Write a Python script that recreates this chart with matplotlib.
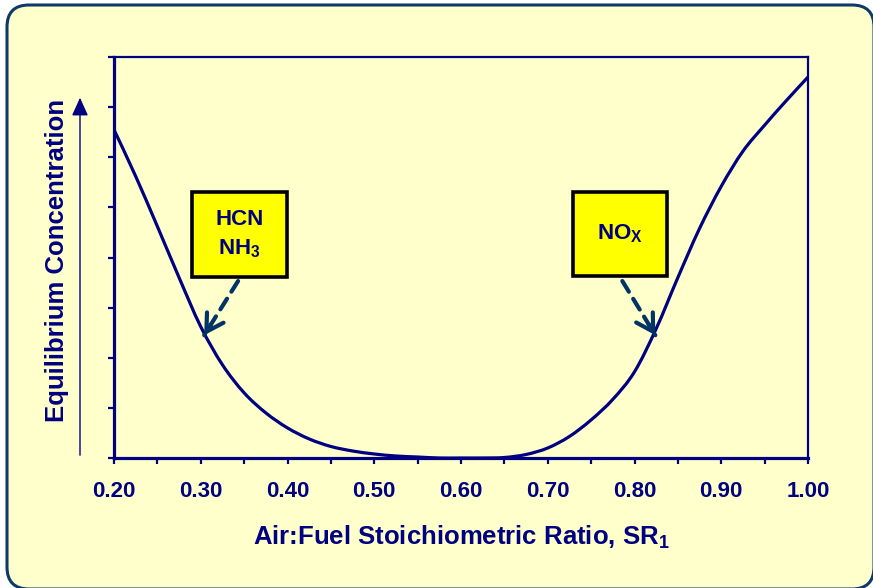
import matplotlib
matplotlib.use("Agg")
import matplotlib.pyplot as plt
from matplotlib.patches import FancyBboxPatch, Rectangle, FancyArrowPatch, PathPatch
from matplotlib.path import Path
from matplotlib.transforms import IdentityTransform

# curve (equilibrium concentration, arbitrary units)
sr = [0.200, 0.225, 0.250, 0.275, 0.300, 0.325, 0.350, 0.375, 0.400, 0.425,
      0.450, 0.475, 0.500, 0.525, 0.550, 0.575, 0.600, 0.625, 0.650, 0.675,
      0.700, 0.725, 0.750, 0.775, 0.800, 0.825, 0.850, 0.875, 0.900, 0.925,
      0.950, 0.975, 1.000]
conc = [6.55, 5.62, 4.62, 3.60, 2.62, 1.86, 1.30, 0.90, 0.60, 0.38,
        0.23, 0.14, 0.08, 0.04, 0.02, 0.00, 0.00, 0.00, 0.01, 0.07,
        0.20, 0.43, 0.76, 1.17, 1.72, 2.58, 3.60, 4.58, 5.42, 6.12,
        6.64, 7.13, 7.60]

xticks = [0.20, 0.30, 0.40, 0.50, 0.60, 0.70, 0.80, 0.90, 1.00]
xtick_labels = ["0.20", "0.30", "0.40", "0.50", "0.60", "0.70", "0.80", "0.90", "1.00"]

# annotation boxes: label, box (x0, x1, y0, y1), arrow start, arrow tip
box_labels = ["HCN\nNH$_3$", "NO$_X$"]
box_extent = [(0.290, 0.399, 3.61, 5.31), (0.729, 0.838, 3.63, 5.31)]
arrow_start = [(0.343, 3.53), (0.786, 3.53)]
arrow_tip = [(0.304, 2.45), (0.824, 2.45)]

NAVY = "#000080"
plt.rcParams["font.family"] = ["Liberation Sans", "DejaVu Sans"]
plt.rcParams["font.weight"] = "bold"
plt.rcParams["mathtext.fontset"] = "custom"
plt.rcParams["mathtext.rm"] = "Liberation Sans"
plt.rcParams["mathtext.bf"] = "Liberation Sans:bold"
plt.rcParams["mathtext.default"] = "bf"


def smooth_path(xs, ys):
    # Excel-style smoothed line: Catmull-Rom segments as cubic Beziers
    pts = list(zip(xs, ys))
    verts = [pts[0]]
    codes = [Path.MOVETO]
    for i in range(len(pts) - 1):
        p0 = pts[max(i - 1, 0)]
        p1, p2 = pts[i], pts[i + 1]
        p3 = pts[min(i + 2, len(pts) - 1)]
        c1 = (p1[0] + (p2[0] - p0[0]) / 6, p1[1] + (p2[1] - p0[1]) / 6)
        c2 = (p2[0] - (p3[0] - p1[0]) / 6, p2[1] - (p3[1] - p1[1]) / 6)
        verts += [c1, c2, p2]
        codes += [Path.CURVE4] * 3
    return Path(verts, codes)


fig = plt.figure(figsize=(8.73, 5.88), dpi=100, facecolor="white")

# rounded panel behind everything (runs off the right and bottom edges)
panel = FancyBboxPatch((7, -1), 867, 584, boxstyle="round,pad=0,rounding_size=22",
                       transform=IdentityTransform(), facecolor="#FFFFCC",
                       edgecolor="#0D3A6A", linewidth=2.2, zorder=-10)
fig.patches.append(panel)

ax = fig.add_axes([114 / 873, 1 - 458 / 588, 694 / 873, 401 / 588])
ax.set_facecolor("none")
ax.add_patch(PathPatch(smooth_path(sr, conc), facecolor="none", edgecolor=NAVY,
                       lw=2.3, capstyle="round", zorder=3))

ax.set_xlim(0.2, 1.0)
ax.set_ylim(0, 8)
ax.set_xticks(xticks, xtick_labels)
ax.set_xticks([0.25, 0.35, 0.45, 0.55, 0.65, 0.75, 0.85, 0.95], minor=True)
ax.set_yticks(range(0, 9))
ax.set_yticklabels([])
ax.tick_params(axis="both", which="both", direction="out", color=NAVY,
               width=1.6, length=4.5)
ax.tick_params(axis="x", which="major", labelsize=16, labelcolor=NAVY, pad=12)
for s in ["left", "bottom"]:
    ax.spines[s].set_linewidth(2.3)
for s in ["top", "right"]:
    ax.spines[s].set_linewidth(1.6)
for s in ax.spines.values():
    s.set_color(NAVY)

for lab, (x0, x1, y0, y1), st, tp in zip(box_labels, box_extent, arrow_start, arrow_tip):
    ax.add_patch(Rectangle((x0, y0), x1 - x0, y1 - y0, facecolor="#FFFF00",
                           edgecolor="black", linewidth=2.6, zorder=4))
    ax.text((x0 + x1) / 2, (y0 + y1) / 2, lab, ha="center", va="center",
            fontsize=16, color=NAVY, linespacing=1.4, zorder=5)
    # dashed shaft, solid open head
    ax.annotate("", xy=tp, xytext=st,
                arrowprops=dict(arrowstyle="-", color="#003366", lw=3,
                                linestyle=(0, (3, 2)), shrinkA=0, shrinkB=0))
    hx = tp[0] + (st[0] - tp[0]) * 0.2
    hy = tp[1] + (st[1] - tp[1]) * 0.2
    ax.annotate("", xy=tp, xytext=(hx, hy),
                arrowprops=dict(arrowstyle="->,head_length=0.6,head_width=0.35",
                                color="#003366", lw=3, shrinkA=0, shrinkB=0,
                                mutation_scale=20))

fig.text(461 / 873, 1 - 545 / 588, r"Air:Fuel Stoichiometric Ratio, SR$_\mathrm{1}$",
         ha="center", va="baseline", fontsize=18.5, color=NAVY)
fig.text(57 / 873, 1 - 260 / 588, "Equilibrium Concentration", rotation=90,
         ha="center", va="center", fontsize=18.5, color=NAVY)

# axis direction arrow beside the y label
fig.patches.append(FancyArrowPatch((80, 588 - 458), (80, 588 - 95),
                                   transform=IdentityTransform(),
                                   arrowstyle="-|>,head_length=11,head_width=5",
                                   mutation_scale=1, color=NAVY, lw=1.0))

fig.savefig("out.png", dpi=100, facecolor=fig.get_facecolor())
